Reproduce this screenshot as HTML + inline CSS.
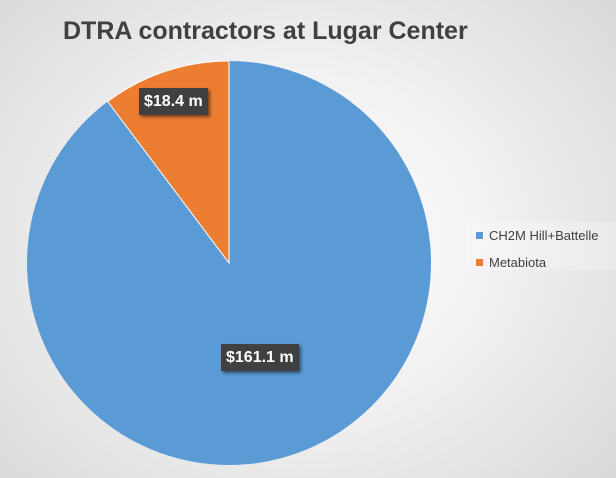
<!DOCTYPE html><html><head><style>
body{margin:0;width:616px;height:478px;overflow:hidden;background:radial-gradient(ellipse 420px 360px at 300px 240px,#ffffff 0%,#f2f2f2 45%,#d9d9d9 100%);font-family:"Liberation Sans",sans-serif;position:relative}
.t{position:absolute;left:63px;top:17px;font-size:25px;font-weight:bold;color:#404040}
.lab{position:absolute;background:#404040;color:#fff;font-weight:bold;font-size:16px;padding:0 5px;line-height:27px;box-shadow:2px 2px 3px rgba(0,0,0,.5)}
.leg{position:absolute;left:467px;top:222px;width:149px;height:48px;background:rgba(255,255,255,.25);font-size:13px;color:#404040}
.leg div{position:absolute;left:9px;white-space:nowrap}
.leg span{display:inline-block;width:7px;height:7px;margin-right:6px;vertical-align:1px}
</style></head><body>
<div class="t">DTRA contractors at Lugar Center</div>
<svg width="616" height="478" style="position:absolute;left:0;top:0">
<circle cx="229" cy="263" r="202" fill="#5b9bd5"/>
<path d="M229 263 L229 61 A202 202 0 0 0 107.7 101.5 Z" fill="#ed7d31" stroke="#fff" stroke-width="1"/>
</svg>
<div class="lab" style="left:139px;top:88px">$18.4 m</div>
<div class="lab" style="left:221px;top:344px">$161.1 m</div>
<div class="leg"><div style="top:6px"><span style="background:#5b9bd5"></span>CH2M Hill+Battelle</div><div style="top:33px"><span style="background:#ed7d31"></span>Metabiota</div></div>
</body></html>
